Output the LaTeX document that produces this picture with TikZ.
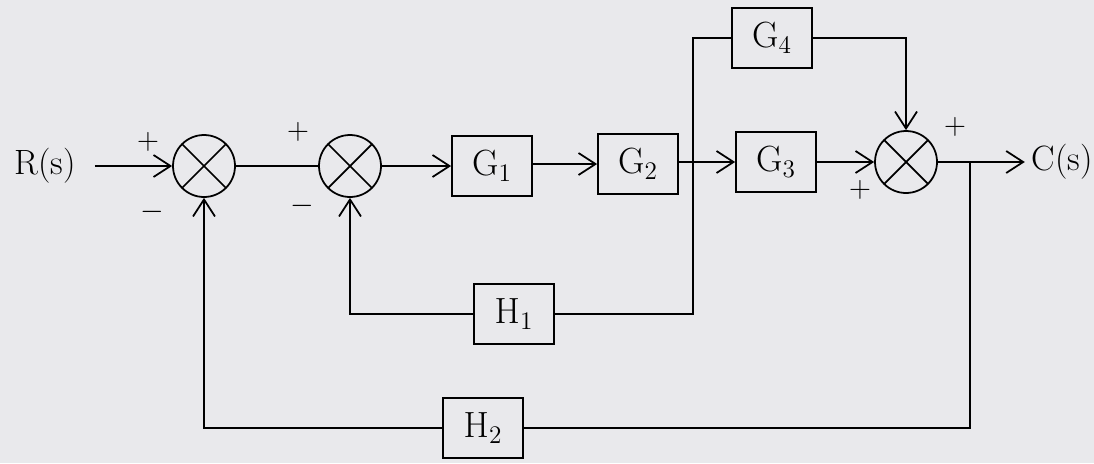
\documentclass[tikz,border=0pt]{standalone}
\usepackage{tikz}
\usetikzlibrary{arrows.meta, positioning, calc}
\definecolor{paper}{RGB}{233,233,236}

\begin{document}
\begin{tikzpicture}[
  x=0.02cm, y=-0.02cm,
  line width=1pt,
  block/.style={
    draw, rectangle, minimum width=1.6cm, minimum height=1.2cm,
    font=\fontsize{20}{24}\selectfont, inner sep=0pt
  },
  sum/.style={
    draw, circle, minimum size=1.24cm, inner sep=0pt,
    path picture={
      \draw (path picture bounding box.north west) -- (path picture bounding box.south east);
      \draw (path picture bounding box.north east) -- (path picture bounding box.south west);
    }
  },
  port/.style={font=\fontsize{20}{24}\selectfont},
  sign/.style={font=\fontsize{16}{18}\selectfont, inner sep=0pt},
  signal/.style={-{Straight Barb[length=3.4mm, width=4.4mm]}}
]

% Background
\fill[paper] (0,0) rectangle (1094,463);
\useasboundingbox (0,0) rectangle (1094,463);

% Input and output
\node[port] (R) at (45,166) {R(s)};
\node[port] (C) at (1062,162) {C(s)};

% Summing points
\node[sum] (s1) at (204,166) {};
\node[sum] (s2) at (350,166) {};
\node[sum] (s3) at (906,162) {};

% Forward blocks
\node[block] (G1) at (492,166) {$\mathrm{G}_1$};
\node[block] (G2) at (638,164) {$\mathrm{G}_2$};
\node[block] (G3) at (776,162) {$\mathrm{G}_3$};
\node[block] (G4) at (772,38) {$\mathrm{G}_4$};

% Feedback blocks
\node[block] (H1) at (514,314) {$\mathrm{H}_1$};
\node[block] (H2) at (483,428) {$\mathrm{H}_2$};

% Take-off points
\coordinate (b1) at (693,162);
\coordinate (b2) at (970,162);

% Signs
\node[sign] (p1) at (148,142) {$+$};
\node[sign] (m1) at (152,212) {$-$};
\node[sign] (p2) at (298,132) {$+$};
\node[sign] (m2) at (302,206) {$-$};
\node[sign] (p3) at (955,127) {$+$};
\node[sign] (p4) at (860,190) {$+$};

% Forward path
\draw[signal] ([xshift=0.25cm]R.east) -- (s1);
\draw (s1) -- (s2);
\draw[signal] (s2) -- (G1.west |- s2);
\draw[signal] (G1.east |- G2) -- (G2);
\draw[signal] (G2.east |- G3) -- (G3);
\draw[signal] (G3) -- (s3);
\draw[signal] (s3) -- (C);

% Parallel branch G4
\draw (G4) -| (b1) |- (H1);
\draw[signal] (G4) -| (s3);

% Feedback H1
\draw[signal] (H1) -| (s2);

% Feedback H2
\draw (b2) |- (H2);
\draw[signal] (H2) -| (s1);

\end{tikzpicture}
\end{document}
